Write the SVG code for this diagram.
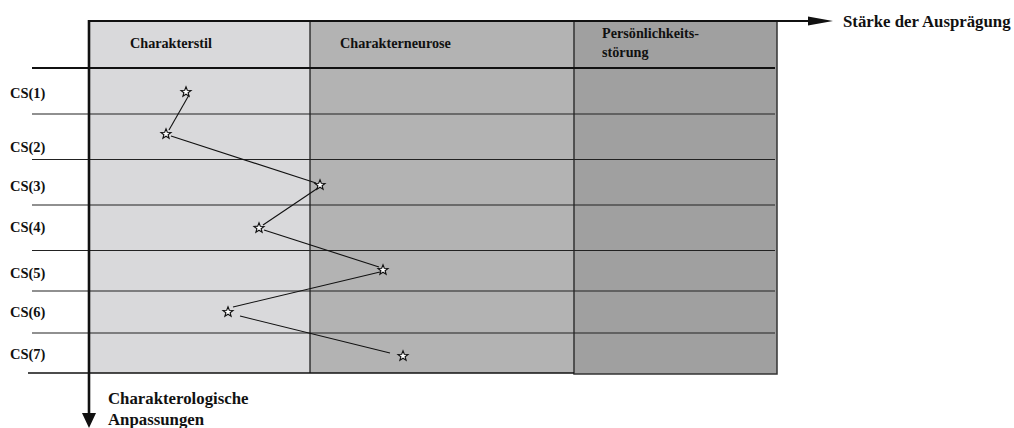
<svg xmlns="http://www.w3.org/2000/svg" width="1014" height="428" viewBox="0 0 1014 428">
  <style>
    .t { font-family: "Liberation Serif", "Times New Roman", serif; font-weight: bold; fill: #111; }
    .hd { font-size: 14.2px; }
    .rl { font-size: 14.5px; }
    .ax { font-size: 16.8px; }
    .row { stroke: #222; stroke-width: 1.2; }
    .link { stroke: #111; stroke-width: 1.1; fill: none; }
    .star { fill: #fff; stroke: #111; stroke-width: 1.1; stroke-linejoin: miter; }
  </style>
  <defs>
    <polygon id="star" points="0,-5.2 1.3,-1.7 5,-1.6 2.1,0.7 3.1,4.3 0,2.2 -3.1,4.3 -2.1,0.7 -5,-1.6 -1.3,-1.7"/>
  </defs>
  <rect width="1014" height="428" fill="#fff"/>

  <!-- column bands -->
  <g id="col-charakterstil">
    <rect x="89" y="21" width="221" height="352" fill="#d9d9db"/>
    <text class="t hd" x="130" y="47.5">Charakterstil</text>
  </g>
  <g id="col-charakterneurose">
    <rect x="310" y="21" width="264" height="352" fill="#b3b3b3"/>
    <text class="t hd" x="340" y="48">Charakterneurose</text>
  </g>
  <g id="col-persoenlichkeitsstoerung">
    <rect x="574" y="21" width="203" height="353" fill="#a0a0a0" stroke="#333" stroke-width="1.5"/>
    <text class="t hd" x="602" y="38">Persönlichkeits-</text>
    <text class="t hd" x="602" y="56.5">störung</text>
  </g>

  <!-- grid lines -->
  <g id="grid">
    <line x1="310" y1="21" x2="310" y2="373" stroke="#111" stroke-width="1.2"/>
    <line x1="32" y1="68" x2="775" y2="68" stroke="#111" stroke-width="2"/>
    <line class="row" x1="32" y1="114" x2="775" y2="114"/>
    <line class="row" x1="32" y1="159.5" x2="775" y2="159.5"/>
    <line class="row" x1="32" y1="205" x2="775" y2="205"/>
    <line class="row" x1="32" y1="250.5" x2="775" y2="250.5"/>
    <line class="row" x1="32" y1="291" x2="775" y2="291"/>
    <line class="row" x1="32" y1="333" x2="775" y2="333"/>
    <line x1="28" y1="373" x2="574" y2="373" stroke="#111" stroke-width="1.4"/>
  </g>

  <!-- row labels -->
  <g id="rows">
    <text class="t rl" x="10" y="98">CS(1)</text>
    <text class="t rl" x="10" y="152">CS(2)</text>
    <text class="t rl" x="10" y="191">CS(3)</text>
    <text class="t rl" x="10" y="231.5">CS(4)</text>
    <text class="t rl" x="10" y="278">CS(5)</text>
    <text class="t rl" x="10" y="316.5">CS(6)</text>
    <text class="t rl" x="10" y="358.5">CS(7)</text>
  </g>

  <!-- axes -->
  <g id="axes">
    <line x1="88" y1="21" x2="812" y2="21" stroke="#111" stroke-width="2"/>
    <polygon points="808,16.5 833,21 808,25.5" fill="#111"/>
    <text class="t ax" x="843" y="26.5">Stärke der Ausprägung</text>
    <line x1="89" y1="20" x2="89" y2="416" stroke="#111" stroke-width="2.6"/>
    <polygon points="82,413 96,413 89,428" fill="#111"/>
    <text class="t ax" x="108" y="404">Charakterologische</text>
    <text class="t ax" x="108" y="425">Anpassungen</text>
  </g>

  <!-- connectors between markers -->
  <g id="connectors">
    <line class="link" x1="189" y1="95" x2="169" y2="130"/>
    <line class="link" x1="171" y1="136" x2="316" y2="183"/>
    <line class="link" x1="318" y1="188" x2="263" y2="225"/>
    <line class="link" x1="264" y1="230" x2="379" y2="267"/>
    <line class="link" x1="380" y1="272" x2="233" y2="307"/>
    <line class="link" x1="240" y1="316" x2="390" y2="353"/>
  </g>

  <!-- markers -->
  <g id="markers">
    <use href="#star" class="star" x="186" y="92"/>
    <use href="#star" class="star" x="166" y="134"/>
    <use href="#star" class="star" x="320" y="185"/>
    <use href="#star" class="star" x="259" y="228"/>
    <use href="#star" class="star" x="383" y="270"/>
    <use href="#star" class="star" x="228" y="312"/>
    <use href="#star" class="star" x="403" y="356"/>
  </g>
</svg>
